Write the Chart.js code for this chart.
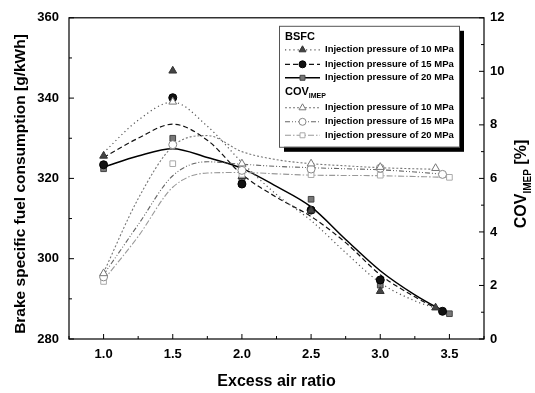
<!DOCTYPE html>
<html>
<head>
<meta charset="utf-8">
<script src="https://cdn.jsdelivr.net/npm/chart.js@4/dist/chart.umd.min.js"></script>
<style>
  html, body { margin: 0; padding: 0; background: #fff; }
  #wrap { width: 535px; height: 393px; }
</style>
</head>
<body>
<div id="wrap"><canvas id="chart" width="535" height="393"></canvas></div>
<script>
// ticks
const xTicks = [1.0, 1.5, 2.0, 2.5, 3.0, 3.5];
const bsfcTicks = [280, 300, 320, 340, 360];
const covTicks = [0, 2, 4, 6, 8, 10, 12];

const seriesNames = ['Injection pressure of 10 MPa', 'Injection pressure of 15 MPa', 'Injection pressure of 20 MPa'];

// measured points (x positions shift slightly at the lean end)
const x10 = [1.0, 1.5, 2.0, 2.5, 3.0, 3.40];
const x15 = [1.0, 1.5, 2.0, 2.5, 3.0, 3.45];
const x20 = [1.0, 1.5, 2.0, 2.5, 3.0, 3.50];

const bsfc10 = [325.6, 346.8, 320.5, 312.0, 291.9, 287.8];
const bsfc15 = [323.4, 340.1, 318.6, 312.1, 294.7, 286.9];
const bsfc20 = [322.4, 330.0, 319.4, 314.8, 293.4, 286.3];

const cov10 = [2.45, 8.86, 6.55, 6.55, 6.42, 6.38];
const cov15 = [2.32, 7.26, 6.30, 6.35, 6.38, 6.15];
const cov20 = [2.15, 6.55, 6.15, 6.14, 6.12, 6.04];

// fitted curves
const fitX = [1.0, 1.25, 1.5, 1.75, 2.0, 2.25, 2.5, 2.75, 3.0, 3.25];
const fitEnd = [3.40, 3.45, 3.48];
const bsfc10Fit = [326.4, 334.5, 339.0, 333.0, 324.0, 316.0, 309.5, 301.5, 294.0, 289.5, 287.7];
const bsfc15Fit = [325.2, 330.0, 333.5, 329.5, 321.0, 315.3, 310.5, 304.0, 296.0, 290.5, 286.8];
const bsfc20Fit = [322.8, 325.6, 327.4, 325.2, 322.5, 318.0, 312.9, 304.8, 297.0, 291.0, 286.5];

const covFitEnd = [3.40, 3.45, 3.50];
const cov10Fit = [2.48, 5.24, 7.20, 7.60, 7.00, 6.70, 6.55, 6.47, 6.40, 6.36, 6.34];
const cov15Fit = [2.40, 4.27, 6.10, 6.62, 6.53, 6.45, 6.40, 6.36, 6.32, 6.24, 6.16];
const cov20Fit = [2.20, 3.83, 5.67, 6.20, 6.22, 6.17, 6.12, 6.11, 6.10, 6.07, 6.04];

const FONT = '"Liberation Sans", Arial, sans-serif';

function pts(xs, ys) { return xs.map((x, i) => ({ x: x, y: ys[i] })); }
function fitPts(end, ys) { return pts(fitX.concat([end]), ys); }

// line + marker styles per series
const bsfcStyle = [
  { color: '#555', dash: [1.2, 3], width: 1.2, marker: 'triangle', fill: '#444', edge: '#333', r: 4.5 },
  { color: '#111', dash: [5, 3], width: 1.2, marker: 'circle', fill: '#111', edge: '#000', r: 4 },
  { color: '#000', dash: [], width: 1.5, marker: 'rect', fill: '#777', edge: '#444', r: 4 }
];
const covStyle = [
  { color: '#777', dash: [2, 2], width: 1.1, marker: 'triangle', fill: '#fff', edge: '#777', r: 4.5 },
  { color: '#666', dash: [5, 2, 1, 2, 1, 2], width: 1.1, marker: 'circle', fill: '#fff', edge: '#888', r: 4 },
  { color: '#999', dash: [6, 2, 1.5, 2], width: 1.1, marker: 'rect', fill: '#fff', edge: '#aaa', r: 4 }
];

function fitSet(data, st, axis) {
  return { data: data, yAxisID: axis, showLine: true, pointRadius: 0, borderColor: st.color,
    borderDash: st.dash, borderWidth: st.width, cubicInterpolationMode: 'monotone', order: 5 };
}
function pointSet(data, st, axis) {
  return { data: data, yAxisID: axis, showLine: false, pointStyle: st.marker, pointRadius: st.r,
    pointBackgroundColor: st.fill, pointBorderColor: st.edge, pointBorderWidth: 1, order: 1 };
}

const datasets = [
  fitSet(fitPts(covFitEnd[0], cov10Fit), covStyle[0], 'y2'),
  fitSet(fitPts(covFitEnd[1], cov15Fit), covStyle[1], 'y2'),
  fitSet(fitPts(covFitEnd[2], cov20Fit), covStyle[2], 'y2'),
  fitSet(fitPts(fitEnd[0], bsfc10Fit), bsfcStyle[0], 'y'),
  fitSet(fitPts(fitEnd[1], bsfc15Fit), bsfcStyle[1], 'y'),
  fitSet(fitPts(fitEnd[2], bsfc20Fit), bsfcStyle[2], 'y'),
  pointSet(pts(x10, cov10), covStyle[0], 'y2'),
  pointSet(pts(x15, cov15), covStyle[1], 'y2'),
  pointSet(pts(x20, cov20), covStyle[2], 'y2'),
  pointSet(pts(x10, bsfc10), bsfcStyle[0], 'y'),
  pointSet(pts(x15, bsfc15), bsfcStyle[1], 'y'),
  pointSet(pts(x20, bsfc20), bsfcStyle[2], 'y')
];

// frame, inward ticks, axis titles and the boxed legend
const decor = {
  id: 'decor',
  afterDraw(chart) {
    const ctx = chart.ctx;
    const a = chart.chartArea;
    const sx = chart.scales.x, sy = chart.scales.y, sy2 = chart.scales.y2;
    ctx.save();
    ctx.strokeStyle = '#000';
    ctx.lineWidth = 1.2;
    ctx.strokeRect(a.left, a.top, a.right - a.left, a.bottom - a.top);

    ctx.lineWidth = 1;
    ctx.beginPath();
    for (let v = 0.75; v <= 3.751; v += 0.25) {
      const px = sx.getPixelForValue(v);
      const len = (Math.abs(v * 2 - Math.round(v * 2)) < 1e-6) ? 5 : 3;
      ctx.moveTo(px, a.bottom); ctx.lineTo(px, a.bottom - len);
    }
    for (let v = 280; v <= 360; v += 10) {
      const py = sy.getPixelForValue(v);
      const len = v % 20 === 0 ? 5 : 3;
      ctx.moveTo(a.left, py); ctx.lineTo(a.left + len, py);
    }
    for (let v = 0; v <= 12; v += 1) {
      const py = sy2.getPixelForValue(v);
      const len = v % 2 === 0 ? 5 : 3;
      ctx.moveTo(a.right, py); ctx.lineTo(a.right - len, py);
    }
    ctx.stroke();

    // axis titles
    ctx.fillStyle = '#000';
    ctx.textBaseline = 'middle';
    ctx.textAlign = 'center';
    ctx.font = 'bold 16px ' + FONT;
    ctx.fillText('Excess air ratio', (a.left + a.right) / 2, 382);

    ctx.save();
    ctx.translate(21, 184);
    ctx.rotate(-Math.PI / 2);
    ctx.font = 'bold 15.5px ' + FONT;
    ctx.fillText('Brake specific fuel consumption [g/kWh]', 0, 0);
    ctx.restore();

    ctx.save();
    ctx.translate(522, 184);
    ctx.rotate(-Math.PI / 2);
    ctx.textAlign = 'left';
    ctx.font = 'bold 16px ' + FONT;
    const w1 = ctx.measureText('COV').width;
    const w3 = ctx.measureText(' [%]').width;
    ctx.font = 'bold 10px ' + FONT;
    const w2 = ctx.measureText('IMEP').width;
    let x0 = -(w1 + w2 + w3) / 2;
    ctx.font = 'bold 16px ' + FONT;
    ctx.fillText('COV', x0, 0);
    ctx.font = 'bold 10px ' + FONT;
    ctx.fillText('IMEP', x0 + w1, 6);
    ctx.font = 'bold 16px ' + FONT;
    ctx.fillText(' [%]', x0 + w1 + w2, 0);
    ctx.restore();

    // legend
    const bx = a.left + 210, by = a.top + 8, bw = 180, bh = 121;
    ctx.fillStyle = '#000';
    ctx.fillRect(bx + 5, by + 5, bw, bh);
    ctx.fillStyle = '#fff';
    ctx.fillRect(bx, by, bw, bh);
    ctx.strokeStyle = '#555';
    ctx.lineWidth = 1;
    ctx.strokeRect(bx + 0.5, by + 0.5, bw, bh);

    ctx.fillStyle = '#000';
    ctx.textAlign = 'left';
    ctx.font = 'bold 11px ' + FONT;
    ctx.fillText('BSFC', bx + 6, by + 11);
    ctx.fillText('COV', bx + 6, by + 66);
    const cw = ctx.measureText('COV').width;
    ctx.font = 'bold 7px ' + FONT;
    ctx.fillText('IMEP', bx + 6 + cw, by + 70);

    const rows = [
      { st: bsfcStyle[0], y: by + 24 }, { st: bsfcStyle[1], y: by + 38.5 }, { st: bsfcStyle[2], y: by + 52 },
      { st: covStyle[0], y: by + 82 }, { st: covStyle[1], y: by + 96 }, { st: covStyle[2], y: by + 109.5 }
    ];
    rows.forEach((row, i) => {
      const st = row.st;
      ctx.save();
      ctx.strokeStyle = st.color;
      ctx.lineWidth = st.width;
      ctx.setLineDash(st.dash);
      ctx.beginPath();
      ctx.moveTo(bx + 6, row.y); ctx.lineTo(bx + 41, row.y);
      ctx.stroke();
      ctx.setLineDash([]);
      ctx.fillStyle = st.fill;
      ctx.strokeStyle = st.edge;
      ctx.lineWidth = 1;
      Chart.helpers.drawPoint(ctx, { pointStyle: st.marker, radius: st.r - 0.5, borderWidth: 1, rotation: 0 }, bx + 23.5, row.y);
      ctx.restore();
      ctx.fillStyle = '#000';
      ctx.font = 'bold 9.5px ' + FONT;
      ctx.fillText(seriesNames[i % 3], bx + 46, row.y);
    });
    ctx.restore();
  }
};

const tickFont = { family: FONT, size: 13, weight: 'bold' };

new Chart(document.getElementById('chart'), {
  type: 'scatter',
  data: { datasets: datasets },
  options: {
    responsive: false,
    animation: false,
    layout: { padding: { top: 13, left: 0, right: 0, bottom: 0 } },
    plugins: { legend: { display: false }, tooltip: { enabled: false } },
    scales: {
      x: {
        type: 'linear', min: 0.75, max: 3.75,
        afterBuildTicks: s => { s.ticks = xTicks.map(v => ({ value: v })); },
        afterFit: s => { s.height = 54; },
        grid: { display: false, drawTicks: false },
        border: { display: false },
        ticks: { color: '#000', font: tickFont, padding: 8, maxRotation: 0, callback: v => Number(v).toFixed(1) }
      },
      y: {
        position: 'left', min: 280, max: 360,
        afterBuildTicks: s => { s.ticks = bsfcTicks.map(v => ({ value: v })); },
        afterFit: s => { s.width = 69; },
        grid: { display: false, drawTicks: false },
        border: { display: false },
        ticks: { color: '#000', font: tickFont, padding: 10 }
      },
      y2: {
        position: 'right', min: 0, max: 12,
        afterBuildTicks: s => { s.ticks = covTicks.map(v => ({ value: v })); },
        afterFit: s => { s.width = 51; },
        grid: { display: false, drawTicks: false },
        border: { display: false },
        ticks: { color: '#000', font: tickFont, padding: 6 }
      }
    }
  },
  plugins: [decor]
});
</script>
</body>
</html>
